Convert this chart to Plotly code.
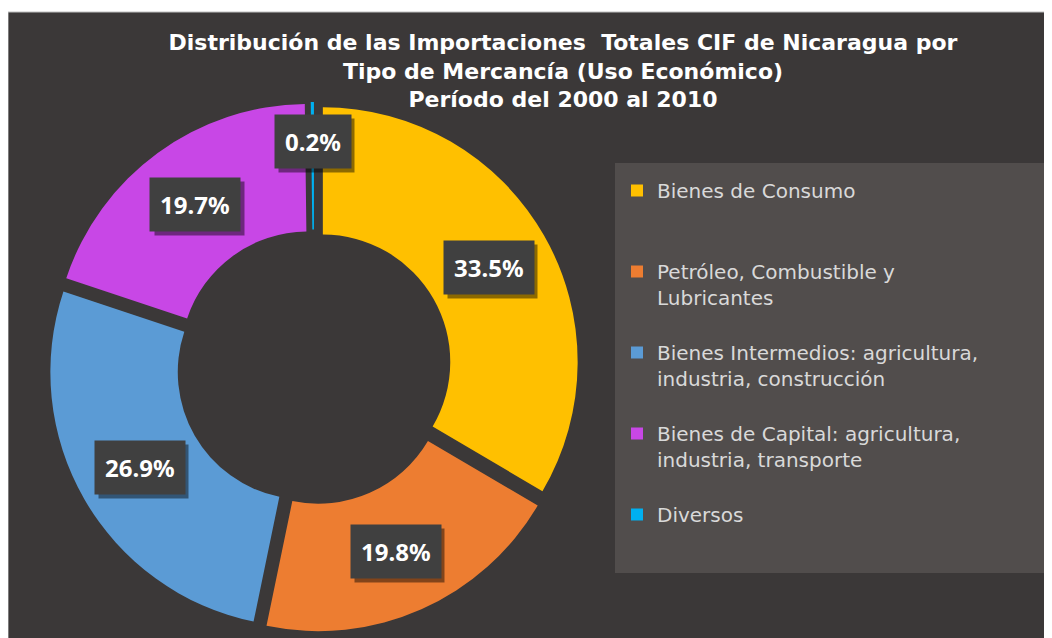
import math

import plotly.graph_objects as go

# datos: participación (%) por tipo de mercancía, 2000-2010
categories = [
    "Bienes de Consumo",
    "Petróleo, Combustible y Lubricantes",
    "Bienes Intermedios: agricultura, industria, construcción",
    "Bienes de Capital: agricultura, industria, transporte",
    "Diversos",
]
legend_text = [
    "Bienes de Consumo<br> <br> ",
    "Petróleo, Combustible y<br>Lubricantes<br> ",
    "Bienes Intermedios: agricultura,<br>industria, construcción<br> ",
    "Bienes de Capital: agricultura,<br>industria, transporte<br> ",
    "Diversos<br> <br> ",
]
shares = [33.5, 19.8, 26.9, 19.7, 0.2]
colors = ["#FFC000", "#ED7D31", "#5B9BD5", "#C847E6", "#00B0F0"]

title = (
    "Distribución de las Importaciones  Totales CIF de Nicaragua por<br>"
    "Tipo de Mercancía (Uso Económico)<br>"
    "Período del 2000 al 2010"
)

W, H = 1052, 638
BG = "#3b3838"
LEGEND_BG = "#514d4c"

# geometry of the doughnut (pixels)
cx, cy, half = 306, 359, 265
pull = 0.04
hole = 0.5

fig = go.Figure(
    go.Pie(
        labels=legend_text,
        values=shares,
        sort=False,
        direction="clockwise",
        rotation=0,
        hole=hole,
        pull=pull,
        marker=dict(colors=colors, line=dict(width=0)),
        textinfo="none",
        hovertext=categories,
        hoverinfo="text+percent",
        domain=dict(
            x=[(cx - half) / W, (cx + half) / W],
            y=[1 - (cy + half) / H, 1 - (cy - half) / H],
        ),
    )
)

# label boxes at the middle of each ring segment
r = half / (1 + pull)
ring_mid = r * (1 + hole) / 2 + pull * r
total = sum(shares)
label_font = dict(family="Noto Sans", size=24, weight=700)
cum = 0
for v in shares:
    theta = math.radians((cum + v / 2) / total * 360)
    cum += v
    rad = ring_mid + (24 if v < 1 else 0)
    px_x = cx + rad * math.sin(theta)
    px_y = cy - rad * math.cos(theta)
    label = f"{v:.1f}%"
    common = dict(
        x=px_x / W,
        y=1 - px_y / H,
        xref="paper",
        yref="paper",
        xanchor="center",
        yanchor="middle",
        showarrow=False,
        borderpad=10,
    )
    # drop shadow behind the box
    fig.add_annotation(
        text="\u2007" * len(label),
        xshift=4,
        yshift=-4,
        bgcolor="rgba(0,0,0,0.45)",
        font=dict(**label_font, color="rgba(0,0,0,0)"),
        **common,
    )
    fig.add_annotation(
        text=label,
        bgcolor="#404040",
        font=dict(**label_font, color="white"),
        **common,
    )

fig.add_shape(
    type="rect", xref="paper", yref="paper",
    x0=0, x1=1, y0=0, y1=1 - 4 / H,
    fillcolor=BG, line=dict(width=1, color="#bfbfbf"), layer="below",
)
fig.add_shape(
    type="rect", xref="paper", yref="paper",
    x0=607 / W, x1=1040 / W, y0=1 - 565 / H, y1=1 - 155 / H,
    fillcolor=LEGEND_BG, line=dict(width=0), layer="below",
)

fig.update_layout(
    width=W,
    height=H,
    margin=dict(l=0, r=0, t=0, b=0),
    paper_bgcolor="white",
    title=dict(
        text=title,
        x=555 / W,
        xanchor="center",
        y=1 - 42 / H,
        yanchor="top",
        font=dict(family="DejaVu Sans", size=22, color="white", weight=700),
    ),
    legend=dict(
        x=609 / W,
        xanchor="left",
        y=1 - 163 / H,
        yanchor="top",
        valign="top",
        bgcolor="rgba(0,0,0,0)",
        font=dict(family="DejaVu Sans", size=20, color="#d9d9d9"),
    ),
)

fig.write_html("out.html")
